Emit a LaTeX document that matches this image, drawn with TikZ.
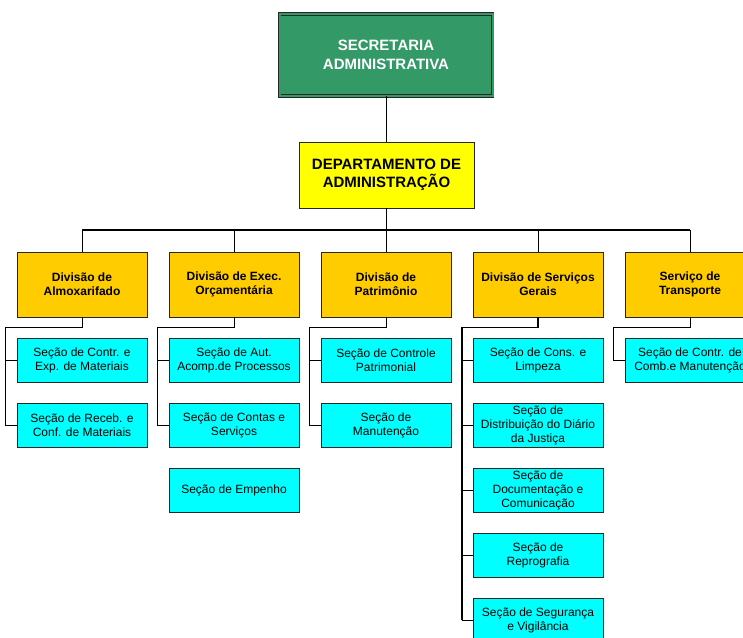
\documentclass[tikz,border=0pt]{standalone}
\usepackage{fontspec}
\setmainfont{Liberation Sans}
\usetikzlibrary{calc}
\definecolor{secgreen}{HTML}{339966}
\definecolor{divorange}{HTML}{FFCC00}
\definecolor{deptyellow}{HTML}{FFFF00}
\definecolor{seccyan}{HTML}{00FFFF}

\begin{document}
\begin{tikzpicture}[x=1pt,y=-1pt,
  box/.style={draw=black!85, line width=0.8pt, inner sep=0pt, align=center},
  topbox/.style={box, fill=secgreen, text=white, double=secgreen, double distance=2pt,
    minimum width=213pt, minimum height=82pt, font=\fontsize{15}{19}\selectfont\bfseries},
  deptbox/.style={box, fill=deptyellow, minimum width=175pt, minimum height=66pt,
    font=\fontsize{15}{18.5}\selectfont\bfseries},
  divbox/.style={box, fill=divorange, minimum width=130pt, minimum height=65pt,
    font=\fontsize{12}{14}\selectfont\bfseries},
  secbox/.style={box, fill=seccyan, minimum width=130pt, minimum height=44pt,
    font=\fontsize{12}{14}\selectfont},
  link/.style={draw=black, line width=0.9pt},
  trunk/.style={draw=black, line width=1.8pt},
]
\useasboundingbox (0,0) rectangle (743,637);
\clip (0,0) rectangle (743,637);

% top levels
\node[topbox] (sec) at (386,55) {SECRETARIA\\ADMINISTRATIVA};
\node[deptbox] (dept) at (386.5,175) {DEPARTAMENTO DE\\ADMINISTRAÇÃO};

% divisions
\node[divbox] (d1) at (82,284.5)  {Divisão de\\Almoxarifado};
\node[divbox] (d2) at (234,284.5) {Divisão de Exec.\\Orçamentária};
\node[divbox] (d3) at (386,284.5) {Divisão de\\Patrimônio};
\node[divbox] (d4) at (538,284.5) {Divisão de Serviços\\Gerais};
\node[divbox] (d5) at (690,284.5) {Serviço de\\Transporte};

% sections
\node[secbox] (s1a) at (82,360) {Seção de Contr. e\\Exp. de Materiais};
\node[secbox] (s1b) at (82,425) {Seção de Receb. e\\Conf. de Materiais};

\node[secbox] (s2a) at (234,360) {Seção de Aut.\\Acomp.de Processos};
\node[secbox] (s2b) at (234,425) {Seção de Contas e\\Serviços};
\node[secbox] (s2c) at (234,490) {Seção de Empenho};

\node[secbox] (s3a) at (386,360) {Seção de Controle\\Patrimonial};
\node[secbox] (s3b) at (386,425) {Seção de\\Manutenção};

\node[secbox] (s4a) at (538,360) {Seção de Cons. e\\Limpeza};
\node[secbox] (s4b) at (538,425) {Seção de\\Distribuição do Diário\\da Justiça};
\node[secbox] (s4c) at (538,490) {Seção de\\Documentação e\\Comunicação};
\node[secbox] (s4d) at (538,555) {Seção de\\Reprografia};
\node[secbox] (s4e) at (538,620) {Seção de Segurança\\e Vigilância};

\node[secbox] (s5a) at (690,360) {Seção de Contr. de\\Comb.e Manutenção};

% connectors between levels
\coordinate (busL) at (82,230);
\coordinate (busR) at (690,230);
\draw[link] (sec.south) -- (sec.south |- dept.north);
\draw[trunk] (dept.south) -- (dept.south |- busL);
\draw[trunk] (busL) -- (busR);
\foreach \d in {d1,d2,d3,d4,d5}
  \draw[link] (\d.north) -- (\d.north |- busL);

% division to section connectors
\draw[link] (d1.south) -- ++(0,10) -| ($(s1b.west)+(-11,0)$) -- (s1b.west);
\draw[link] (s1a.west) -- ++(-11,0);

\draw[link] (d2.south) -- ++(0,10) -| ($(s2b.west)+(-11,0)$) -- (s2b.west);
\draw[link] (s2a.west) -- ++(-11,0);

\draw[link] (d3.south) -- ++(0,10) -| ($(s3b.west)+(-11,0)$) -- (s3b.west);
\draw[link] (s3a.west) -- ++(-11,0);

\draw[trunk] (d4.south) -- ++(0,10) -| ($(s4e.west)+(-11,0)$);
\draw[link] ($(s4e.west)+(-11,0)$) -- (s4e.west);
\foreach \s in {s4a,s4b,s4c,s4d}
  \draw[link] (\s.west) -- ++(-11,0);

\draw[link] (d5.south) -- ++(0,10) -| ($(s5a.west)+(-11,0)$) -- (s5a.west);
\end{tikzpicture}
\end{document}
